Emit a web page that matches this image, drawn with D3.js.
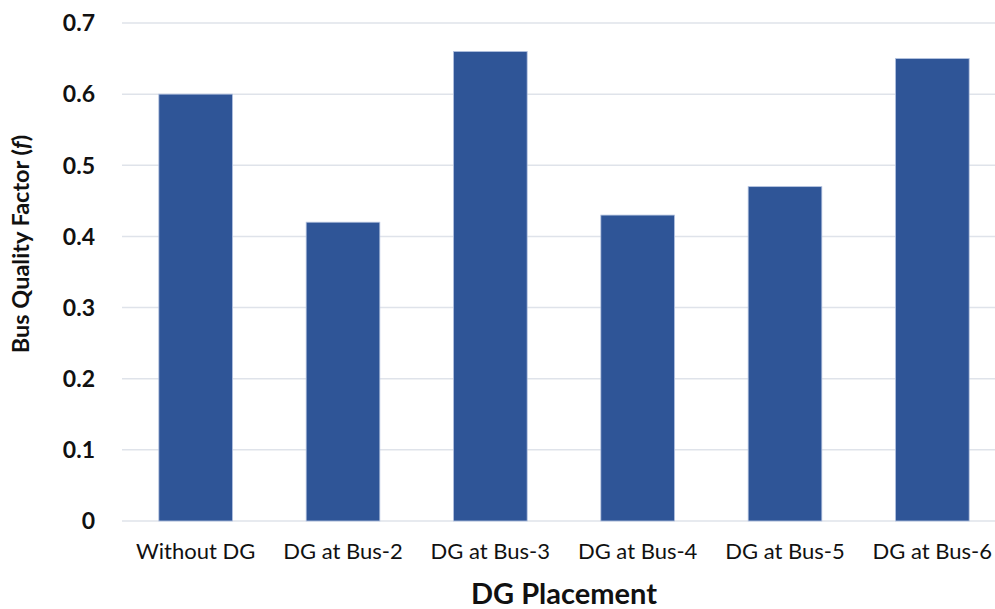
<!DOCTYPE html>
<html>
<head>
  <style>
    body { margin: 0; background: white; }
    svg { display: block; font-family: Lato, "Open Sans", sans-serif; }
  </style>
</head>
<body>
  <svg width="995" height="609"></svg>
  <script src="https://d3js.org/d3.v7.min.js"></script>
  <script>
    const categories = ["Without DG", "DG at Bus-2", "DG at Bus-3", "DG at Bus-4", "DG at Bus-5", "DG at Bus-6"];
    const values = [0.60, 0.42, 0.66, 0.43, 0.47, 0.65];
    const yTicks = [0, 0.1, 0.2, 0.3, 0.4, 0.5, 0.6, 0.7];

    const width = 995, height = 609;
    const margin = { top: 23, right: -11, bottom: 88, left: 122 };
    const svg = d3.select("svg");

    const x = d3.scaleBand()
      .domain(categories)
      .range([margin.left, width - margin.right])
      .paddingInner(0.5)
      .paddingOuter(0.25);
    const y = d3.scaleLinear()
      .domain([0, 0.7])
      .range([height - margin.bottom, margin.top]);

    // gridlines
    svg.append("g")
      .selectAll("line")
      .data(yTicks)
      .join("line")
      .attr("x1", margin.left)
      .attr("x2", width)
      .attr("y1", d => y(d))
      .attr("y2", d => y(d))
      .attr("stroke", "#dfe3ea")
      .attr("stroke-width", 1.5);

    // y tick labels
    svg.append("g")
      .selectAll("text")
      .data(yTicks)
      .join("text")
      .attr("x", 95)
      .attr("y", d => y(d))
      .attr("dy", "0.36em")
      .attr("text-anchor", "end")
      .attr("font-size", 23)
      .attr("font-weight", "bold")
      .attr("fill", "#111")
      .text(d => d === 0 ? "0" : d.toFixed(1));

    // bars
    svg.append("g")
      .selectAll("rect")
      .data(values)
      .join("rect")
      .attr("x", (d, i) => x(categories[i]))
      .attr("y", d => y(d))
      .attr("width", x.bandwidth())
      .attr("height", d => y(0) - y(d))
      .attr("fill", "#2f5597")
      .attr("stroke", "#b4c3e0")
      .attr("stroke-width", 0.8);

    // category labels
    svg.append("g")
      .selectAll("text")
      .data(categories)
      .join("text")
      .attr("x", d => x(d) + x.bandwidth() / 2)
      .attr("y", 559)
      .attr("text-anchor", "middle")
      .attr("font-size", 22)
      .attr("fill", "#111")
      .text(d => d);

    // x title
    svg.append("text")
      .attr("x", 564)
      .attr("y", 604)
      .attr("text-anchor", "middle")
      .attr("font-size", 29)
      .attr("font-weight", "bold")
      .attr("fill", "#111")
      .text("DG Placement");

    // y title
    const yt = svg.append("text")
      .attr("transform", "translate(29,244) rotate(-90)")
      .attr("text-anchor", "middle")
      .attr("font-size", 23.5)
      .attr("font-weight", "bold")
      .attr("fill", "#111");
    yt.append("tspan").text("Bus Quality Factor (");
    yt.append("tspan").attr("font-style", "italic").text("f");
    yt.append("tspan").text(")");
  </script>
</body>
</html>
